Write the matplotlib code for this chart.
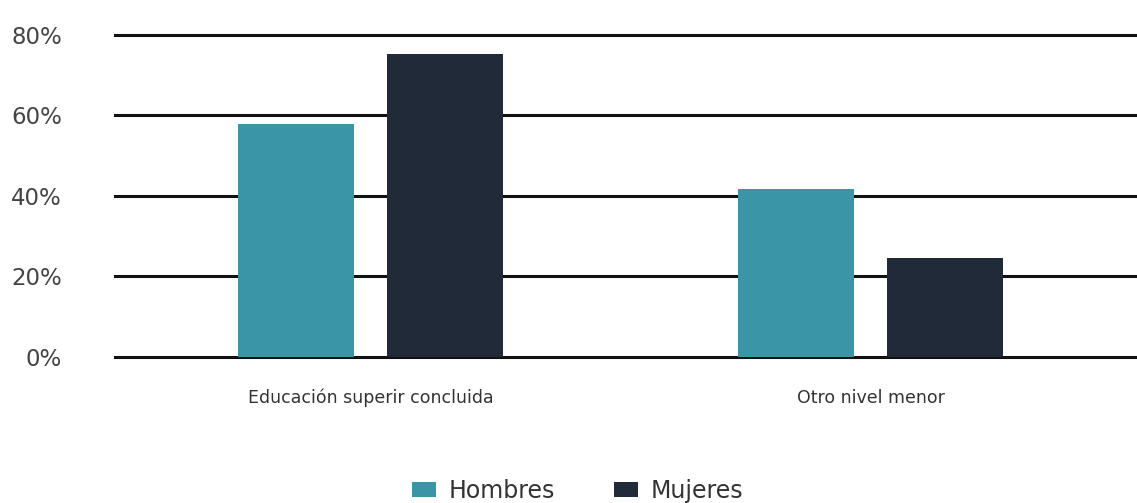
import numpy as np
import matplotlib.pyplot as plt
from matplotlib.ticker import PercentFormatter

categories = ['Educación superir concluida', 'Otro nivel menor']
hombres = [57.9, 41.7]
mujeres = [75.2, 24.6]
series = ['Hombres', 'Mujeres']
colors = ['#3A95A7', '#212A38']

plt.rcParams['font.family'] = ['DejaVu Sans']

fig = plt.figure(figsize=(11.37, 5.03), dpi=100)
ax = fig.add_axes([0.101, 0.291, 0.899, 0.640])

x = np.arange(len(categories))
w = 0.232
ax.bar(x - 0.149, hombres, w, color=colors[0], label=series[0], zorder=3)
ax.bar(x + 0.149, mujeres, w, color=colors[1], label=series[1], zorder=3)

ax.set_ylim(0, 80)
ax.set_xlim(-0.512, 1.532)
ax.set_yticks([0, 20, 40, 60, 80])
ax.yaxis.set_major_formatter(PercentFormatter(decimals=0))
for y in [0, 20, 40, 60, 80]:
    ax.axhline(y, color='#111111', lw=2.2, zorder=2, clip_on=False)

for s in ax.spines.values():
    s.set_visible(False)
ax.tick_params(axis='y', length=0, pad=38, labelsize=16.5, labelcolor='#444444')
ax.tick_params(axis='x', length=0, pad=23, labelsize=12.5, labelcolor='#333333')
ax.set_xticks(x)
ax.set_xticklabels(categories)

fig.legend(loc='center', bbox_to_anchor=(0.508, 0.024), ncol=2, frameon=False,
           fontsize=17, handlelength=1.0, handleheight=0.55, columnspacing=2.5,
           handletextpad=0.55, labelcolor='#333333')

fig.savefig('out.png', dpi=100)
